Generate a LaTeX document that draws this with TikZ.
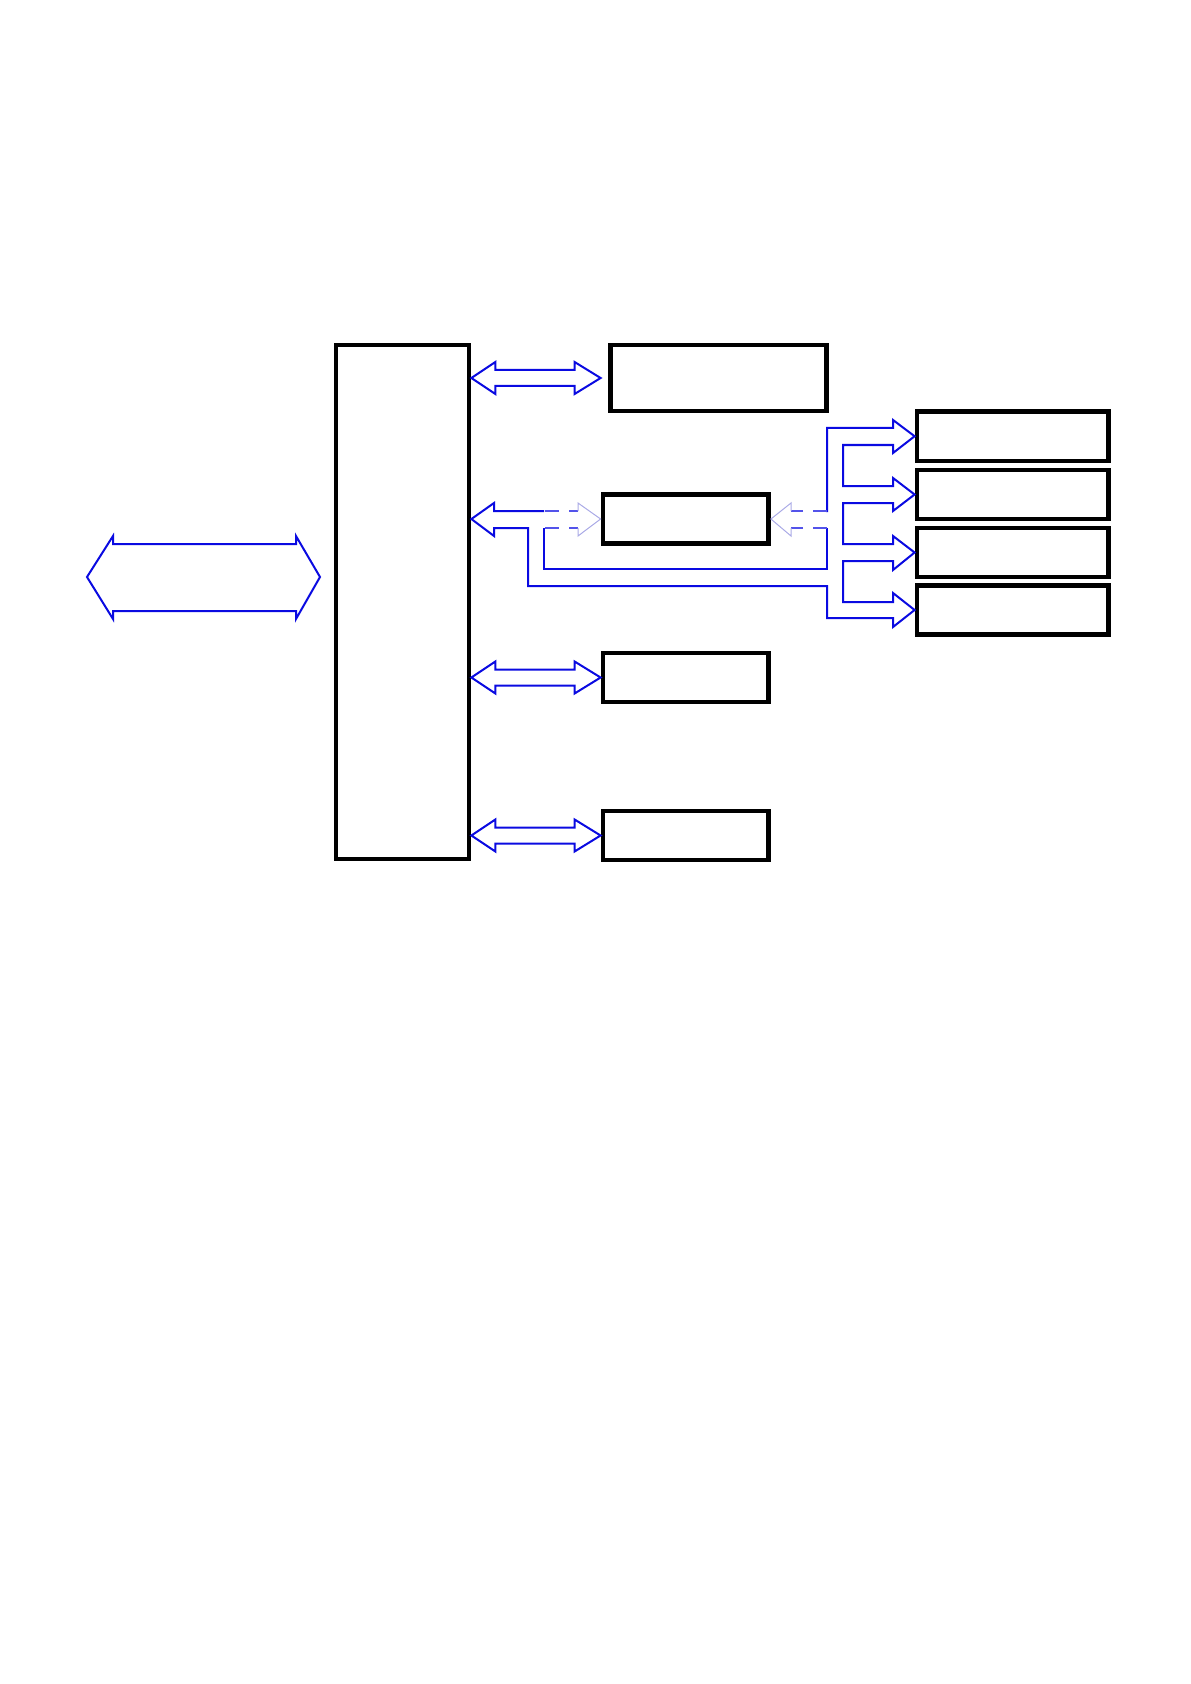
\documentclass[tikz,border=0pt]{standalone}
\usetikzlibrary{calc}
\definecolor{busblue}{RGB}{10,10,225}
\definecolor{faintblue}{RGB}{170,170,230}
\tikzset{
  box/.style={draw=black, line width=2.4pt, rectangle, inner sep=0pt, fill=white},
  blk/.style={draw=busblue, line width=1pt, line join=miter},
  faint/.style={draw=faintblue, line width=0.5pt},
  faintdash/.style={draw=busblue!70, line width=0.6pt, dash pattern=on 7pt off 5pt}
}
\newcommand{\dblarrow}[2]{%
  \draw[blk] (#1) -- ($(#1)+(24,-16)$) -- ($(#1)+(24,-8)$) -- ($(#2)+(-26,-8)$) -- ($(#2)+(-26,-16)$) -- (#2)
    -- ($(#2)+(-26,16)$) -- ($(#2)+(-26,8)$) -- ($(#1)+(24,8)$) -- ($(#1)+(24,16)$) -- cycle;}
\begin{document}
\begin{tikzpicture}[x=0.5pt,y=-0.5pt]
\useasboundingbox (0,0) rectangle (1190,1684);

% boxes
\node[box, minimum width=66.5pt, minimum height=257pt] (main) at (402.5,602) {};
\node[box, minimum width=108pt, minimum height=33pt] (box1) at (718.5,378) {};
\node[box, minimum width=82.75pt, minimum height=24.5pt] (box2) at (685.75,519) {};
\node[box, minimum width=82.75pt, minimum height=24.5pt] (box3) at (685.75,677.5) {};
\node[box, minimum width=82.75pt, minimum height=24.5pt] (box4) at (685.75,835.5) {};
\node[box, minimum width=95.75pt, minimum height=24.75pt] (r1) at (1012.75,436.25) {};
\node[box, minimum width=95.75pt, minimum height=24.5pt] (r2) at (1012.75,494.5) {};
\node[box, minimum width=95.75pt, minimum height=24.5pt] (r3) at (1012.75,552.5) {};
\node[box, minimum width=95.75pt, minimum height=24.5pt] (r4) at (1012.75,610) {};

% big free double arrow
\draw[blk] (87,577) -- (113,536) -- (113,544) -- (296,544) -- (296,536) -- (320,577)
  -- (296,619) -- (296,611) -- (113,611) -- (113,619) -- cycle;

% double arrows to boxes
\coordinate (a1) at ($(box1.west)+(-7.5,0)$);
\dblarrow{main.east |- box1.west}{a1}
\dblarrow{main.east |- box3.west}{box3.west}
\dblarrow{main.east |- box4.west}{box4.west}

% bus to right boxes
\draw[blk] (544,511) -- (494,511) -- (494,503) -- (main.east |- box2.west) -- (494,536) -- (494,528)
  -- (528,528) -- (528,586) -- (827,586) -- (827,618) -- (893,618) -- (893,627) -- (r4.west)
  -- (893,593) -- (893,602) -- (843,602) -- (843,561) -- (893,561) -- (893,570) -- (r3.west)
  -- (893,536) -- (893,544) -- (843,544) -- (843,503) -- (893,503) -- (893,511) -- (r2.west)
  -- (893,478) -- (893,486) -- (843,486) -- (843,445) -- (893,445) -- (893,453) -- (r1.west)
  -- (893,420) -- (893,428) -- (827,428) -- (827,512);
\draw[blk] (544,528) -- (544,569) -- (827,569) -- (827,528);

% faint hidden arrows at box2
\draw[faintdash] (545,511) -- (578,511);
\draw[faintdash] (545,528) -- (578,528);
\draw[faint] (578,511) -- (578,503) -- (box2.west) -- (578,536) -- (578,528);
\draw[faintdash] (827,511) -- (791,511);
\draw[faintdash] (827,528) -- (791,528);
\draw[faint] (791,511) -- (791,503) -- (box2.east) -- (791,536) -- (791,528);
\end{tikzpicture}
\end{document}
